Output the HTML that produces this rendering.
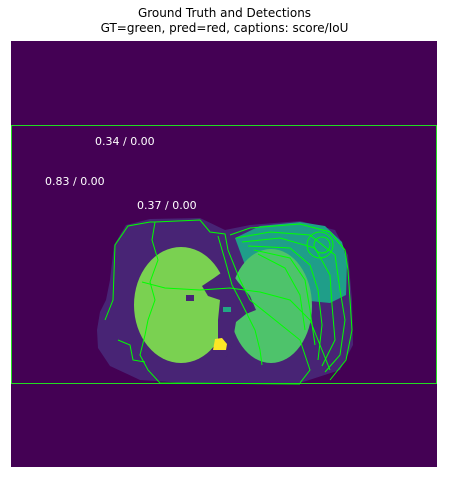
<!DOCTYPE html>
<html><head><meta charset="utf-8"><style>
body{margin:0;background:#fff;width:449px;height:480px;overflow:hidden}
svg{display:block}
text{font-family:"DejaVu Sans","Liberation Sans",sans-serif}
</style></head><body>
<svg width="449" height="480">
<text x="224.5" y="17" text-anchor="middle" font-size="12">Ground Truth and Detections</text>
<text x="224.5" y="32" text-anchor="middle" font-size="12">GT=green, pred=red, captions: score/IoU</text>
<rect x="11" y="41" width="426" height="426" fill="#440154"/>
<path fill="#482475" d="M97,330 L100,312 L106,300 L110,280 L114,245 L126,225 L150,219 L200,218 L225,230 L250,225 L300,221 L335,230 L348,255 L352,300 L353,345 L340,370 L300,383 L200,384 L140,380 L110,366 L98,348 Z"/>
<path fill="#1f9e89" d="M235,238 L260,226 L300,222 L325,226 L342,242 L347,262 L346,295 L330,303 L300,300 L270,285 L245,265 Z"/>
<ellipse cx="271" cy="306" rx="41" ry="57" fill="#4ec36b"/>
<ellipse cx="181" cy="305" rx="47" ry="58" fill="#7ad151"/>
<path fill="#482475" d="M202,286 L214,278 L228,268 L238,282 L250,296 L256,310 L246,314 L236,322 L232,345 L226,358 L218,350 L218,320 L220,300 L208,296 Z"/>
<rect x="186" y="295" width="8" height="6" fill="#482475"/>
<rect x="223" y="307" width="8" height="5" fill="#22a884"/>
<path d="M213,350 L215,339 L222,338 L227,344 L226,350 Z" fill="#fde725"/>
<g fill="#22dd22">
<rect x="11" y="125" width="426" height="1"/>
<rect x="11" y="383" width="426" height="1"/>
<rect x="11" y="125" width="1" height="259"/>
<rect x="436" y="125" width="1" height="259"/>
</g>
<g fill="none" stroke="#00ff00" stroke-width="1">
<path d="M105,320 L113,300 L115,245 L128,226 L150,222 L155,222 L152,240 L158,260 L150,282 L155,300 L148,320 L145,335 L140,355 L148,370 L160,383 L300,384"/>
<path d="M155,222 L200,220 L210,232 L225,234 L228,250 L240,280 L250,300 L275,320 L300,340 L310,370 L300,383"/>
<path d="M142,282 L165,288 L200,290 L230,288 L260,292 L290,300 L310,320 L322,350 L330,370"/>
<path d="M230,235 L250,228 L300,224 L330,232 L345,250 L348,270 L350,300 L352,330 L346,360 L330,380"/>
<path d="M236,238 L270,232 L310,235 L335,255 L340,290 L345,320 L340,355 L325,372"/>
<path d="M242,242 L280,238 L315,248 L330,275 L332,305 L335,340 L322,366"/>
<path d="M248,246 L290,248 L310,265 L318,290 L322,325 L318,360"/>
<path d="M254,250 L290,258 L305,280 L310,310 L315,345"/>
<path d="M258,254 L285,268 L300,295 L305,330"/>
<ellipse cx="320" cy="245" rx="13" ry="13"/>
<ellipse cx="322" cy="245" rx="8" ry="8"/>
<path d="M118,340 L130,345 L133,360 L145,362"/>
<path d="M218,236 L225,260 L232,285 L240,300 L255,330 L260,350 L262,365"/>
</g>
<text x="95" y="145" fill="#fff" font-size="11">0.34 / 0.00</text>
<text x="45" y="185" fill="#fff" font-size="11">0.83 / 0.00</text>
<text x="137" y="209" fill="#fff" font-size="11">0.37 / 0.00</text>
</svg>
</body></html>
